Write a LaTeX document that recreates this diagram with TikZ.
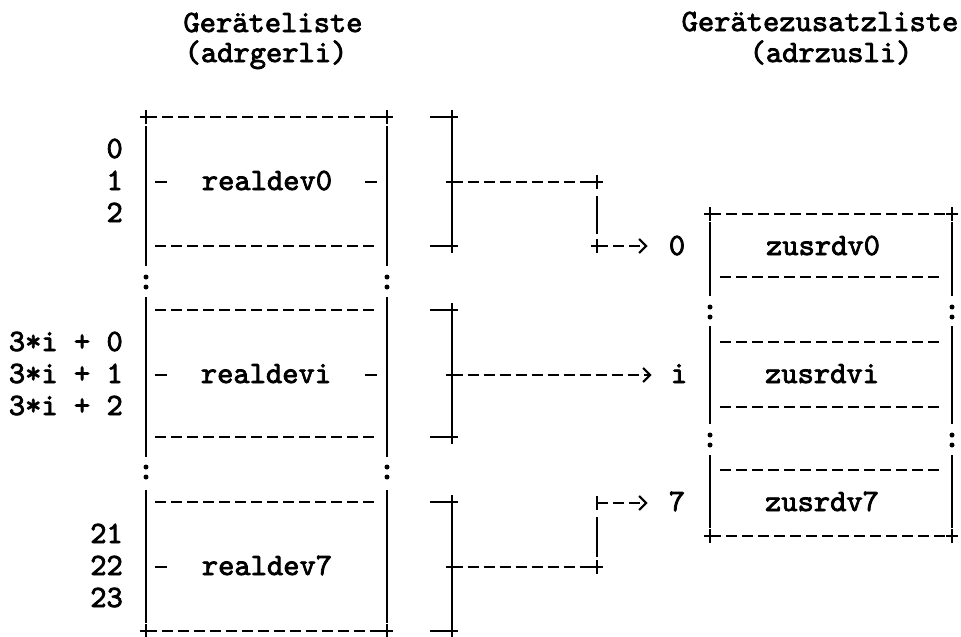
\documentclass[tikz,border=0pt]{standalone}
\usepackage{fontspec}
\usetikzlibrary{arrows.meta}
\newfontfamily\tyfont{lmmono10-regular.otf}[FakeBold=2.5]
\begin{document}
\begin{tikzpicture}[x=1pt,y=-1pt,
  tt/.style={font=\tyfont\fontsize{31}{34}\selectfont, inner sep=0pt, anchor=base},
  lbl/.style={tt, anchor=base east},
  dl/.style={line width=2.3pt, dash pattern=on 11pt off 5pt},
  sl/.style={line width=2.5pt},
  tip/.style={-{Straight Barb[length=7pt,width=14pt,line width=2.2pt]}},
  plusm/.pic={\draw[line width=2.3pt] (-6,0)--(6,0) (0,-7)--(0,7);},
  colonm/.pic={\fill (0,-5) circle (2.5pt) (0,5) circle (2.5pt);},
]
\useasboundingbox (0,0) rectangle (961,637);

% titles
\node[tt] (t1) at (273,32) {Geräteliste};
\node[tt] (t1b) at (266,62) {(adrgerli)};
\node[tt] (t2) at (820,31) {Gerätezusatzliste};
\node[tt] (t2b) at (831,62) {(adrzusli)};

% left labels
\node[lbl] (l0) at (123,158) {0};
\node[lbl] (l1) at (123,190) {1};
\node[lbl] (l2) at (123,222) {2};
\node[lbl] (li0) at (123,351) {3*i + 0};
\node[lbl] (li1) at (123,383) {3*i + 1};
\node[lbl] (li2) at (123,415) {3*i + 2};
\node[lbl] (l21) at (123,543) {21};
\node[lbl] (l22) at (123,575) {22};
\node[lbl] (l23) at (123,607) {23};

% left box (Geraeteliste)
\draw[dl] (146,117) -- (387,117);
\pic at (146,117) {plusm}; \pic at (387,117) {plusm};
\draw[dl] (146,631) -- (387,631);
\pic at (146,631) {plusm}; \pic at (387,631) {plusm};
\foreach \xx in {146,387} {
  \draw[sl] (\xx,126) -- (\xx,266);
  \draw[sl] (\xx,297) -- (\xx,457);
  \draw[sl] (\xx,490) -- (\xx,623);
  \pic at (\xx,282) {colonm};
  \pic at (\xx,472) {colonm};
}
\foreach \yy in {246,310,437,502} \draw[dl] (155,\yy) -- (378,\yy);
\node[tt] (d0) at (267,190) {realdev0};
\node[tt] (di) at (266,383) {realdevi};
\node[tt] (d7) at (267,575) {realdev7};
\draw[sl] (155,182) -- (167,182) (365,182) -- (377,182);
\draw[sl] (155,375) -- (167,375) (365,375) -- (377,375);
\draw[sl] (155,567) -- (167,567);

% brackets
\foreach \ya/\yb/\ym in {117/246/182, 310/437/375, 502/631/567} {
  \draw[sl] (452,\ya) -- (452,\yb);
  \draw[sl] (430,\ya) -- (452,\ya) (430,\yb) -- (452,\yb);
  \pic at (452,\ya) {plusm}; \pic at (452,\yb) {plusm}; \pic at (452,\ym) {plusm};
}

% right box (Geraetezusatzliste)
\draw[dl] (710,214) -- (952,214);
\pic at (710,214) {plusm}; \pic at (952,214) {plusm};
\draw[dl] (710,536) -- (952,536);
\pic at (710,536) {plusm}; \pic at (952,536) {plusm};
\foreach \xx in {710,952} {
  \draw[sl] (\xx,222) -- (\xx,296);
  \draw[sl] (\xx,326) -- (\xx,424);
  \draw[sl] (\xx,455) -- (\xx,528);
  \pic at (\xx,312) {colonm};
  \pic at (\xx,440) {colonm};
}
\foreach \yy in {277,342,407,470} \draw[dl] (720,\yy) -- (943,\yy);
\node[tt] (z0) at (823,255) {zusrdv0};
\node[tt] (zi) at (822,383) {zusrdvi};
\node[tt] (z7) at (822,511) {zusrdv7};

% index labels
\node[tt] (r0) at (677,255) {0};
\node[tt] (r1) at (679,383) {i};
\node[tt] (r2) at (677,511) {7};

% connectors
\coordinate (s0) at (452,182); \coordinate (k0) at (597,182); \coordinate (e0) at (597,246);
\coordinate (s1) at (452,375);
\coordinate (s2) at (452,567); \coordinate (k2) at (597,567); \coordinate (e2) at (597,503);

\draw[dl] (s0) -- (k0);
\draw[sl, shorten <=14pt, shorten >=12pt] (k0) -- (e0);
\pic at (k0) {plusm}; \pic at (e0) {plusm};
\draw[dl, tip, shorten >=21pt] (e0) -- (e0 -| r0.west);

\draw[dl, tip, shorten >=19pt] (s1) -- (s1 -| r1.west);

\draw[dl] (s2) -- (k2);
\draw[sl, shorten <=10pt, shorten >=14pt] (k2) -- (e2);
\pic at (k2) {plusm};
\draw[sl] (597,496) -- (597,510);
\draw[dl, tip, shorten >=21pt] (e2) -- (e2 -| r2.west);
\end{tikzpicture}
\end{document}
